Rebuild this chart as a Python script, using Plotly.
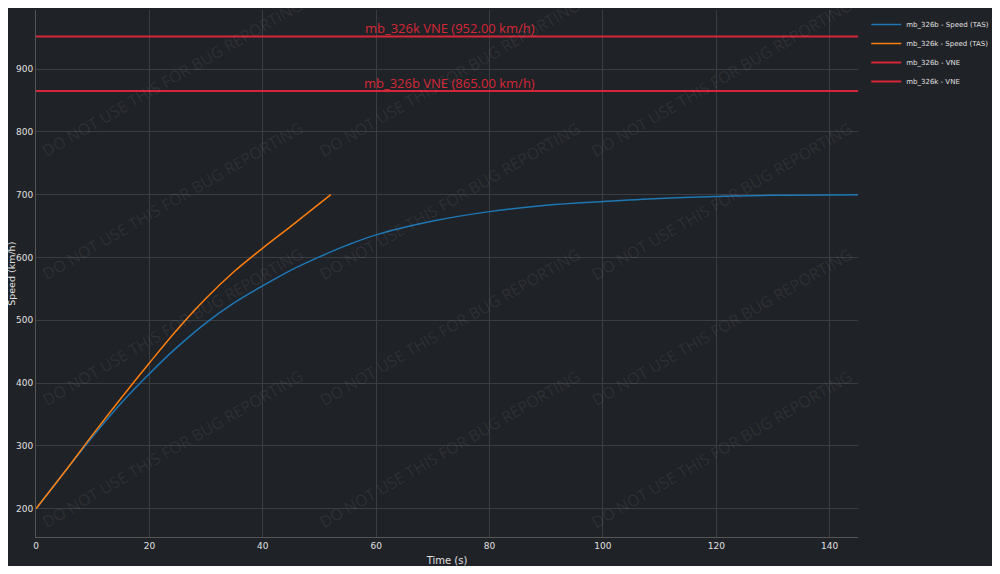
import plotly.graph_objects as go

t_b = [0, 5, 10, 15, 20, 25, 30, 35, 40, 45, 50, 55, 60, 70, 80, 90, 100, 110, 120, 130, 145]
v_b = [200, 258, 315, 368, 415, 458, 496, 528, 555, 580, 601, 620, 636, 658, 673, 683, 689, 694, 697, 699, 700]
t_k = [0, 5, 10, 15, 20, 25, 30, 35, 40, 45, 52]
v_k = [200, 258, 318, 376, 432, 486, 535, 578, 615, 650, 700]
vne_b = 865.0
vne_k = 952.0

bg = "#1f2227"
fig = go.Figure()
fig.add_trace(go.Scatter(x=t_b, y=v_b, mode="lines", line=dict(color="#1f77b4", width=1.5, shape="spline"),
                         name="mb_326b - Speed (TAS)"))
fig.add_trace(go.Scatter(x=t_k, y=v_k, mode="lines", line=dict(color="#ff7f0e", width=1.5, shape="spline"),
                         name="mb_326k - Speed (TAS)"))
for name, v in [("mb_326b", vne_b), ("mb_326k", vne_k)]:
    fig.add_trace(go.Scatter(x=[0, 145], y=[v, v], mode="lines", line=dict(color="#d62738", width=2),
                             name=f"{name} - VNE"))
    fig.add_annotation(x=73, y=v, text=f"{name} VNE ({v:.2f} km/h)",
                       showarrow=False, yshift=8, font=dict(color="#d62738", size=13, family="Open Sans"))

# watermark grid, placed in data units
for yy in [885, 690, 490, 295]:
    for xx in [24, 73, 121]:
        fig.add_annotation(x=xx, y=yy, text="DO NOT USE THIS FOR BUG REPORTING",
                           showarrow=False, textangle=-30,
                           font=dict(color="rgba(255,255,255,0.08)", size=16, family="Open Sans"))

# y axis title as annotation (margin is fixed)
fig.add_annotation(xref="paper", yref="paper", x=-0.03, xanchor="center", y=0.5, text="Speed (km/h)",
                   textangle=-90, showarrow=False, font=dict(size=9.5))

fig.add_shape(type="rect", xref="paper", yref="paper", x0=-0.043, x1=-0.036, y0=0.89, y1=0.92,
              fillcolor="#1a7ad9", line_width=0)

fig.update_layout(
    width=984, height=558, paper_bgcolor=bg, plot_bgcolor=bg,
    margin=dict(l=28, r=134, t=2, b=29, autoexpand=False),
    font=dict(family="DejaVu Sans", color="#e0e0e0", size=9),
    legend=dict(x=1.01, y=1, font=dict(size=7), itemwidth=30, bgcolor="rgba(0,0,0,0)"),
    xaxis=dict(range=[0, 145], title=dict(text="Time (s)", font=dict(size=10)), gridcolor="#3a3d42",
               zeroline=False, showline=True, linecolor="#555", ticks="", automargin=False),
    yaxis=dict(range=[155, 994], gridcolor="#3a3d42", zeroline=False,
               showline=True, linecolor="#555", dtick=100, automargin=False),
)
fig.write_html("out.html")
